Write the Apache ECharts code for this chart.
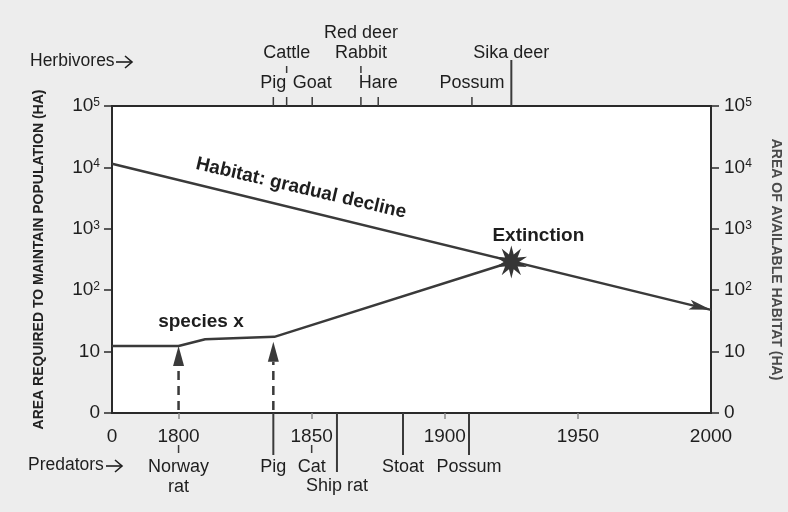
<!DOCTYPE html>
<html><head><meta charset="utf-8">
<script src="https://cdn.jsdelivr.net/npm/echarts@6/dist/echarts.min.js"></script>
<style>html,body{margin:0;padding:0;background:#ededed}#c{width:788px;height:512px}</style>
</head><body><div id="c"></div>
<script>
// ---------------- data ----------------
const xTickValues = [1775, 1800, 1850, 1900, 1950, 2000];
const xTickLabels = ['0', '1800', '1850', '1900', '1950', '2000'];
const xMinorTicks = [1800, 1850, 1900, 1950];
const yTickLabels = ['0', '10', '10^2', '10^3', '10^4', '10^5'];

const habitatYears = [1775, 2000];
const habitatValues = [4.06, 1.68];

const speciesYears = [1775, 1800, 1810, 1836, 1925];
const speciesValues = [1.09, 1.09, 1.2, 1.24, 2.46];

const extinctionYears = [1925];
const extinctionValues = [2.46];

const arrivalYears = [1800, 1835.6];
const arrivalValues = [1.09, 1.16];

const herbivoreNames = ['Pig', 'Cattle', 'Goat', 'Red deer', 'Rabbit', 'Hare', 'Possum', 'Sika deer'];
const herbivoreYears = [1835.6, 1840.6, 1850.2, 1868.5, 1868.5, 1875, 1910.2, 1925];

const predatorNames = ['Norway\nrat', 'Pig', 'Cat', 'Ship rat', 'Stoat', 'Possum'];
const predatorYears = [1800, 1835.6, 1850, 1859.5, 1884.3, 1909.1];

const noteTexts = ['species x', 'Habitat: gradual decline'];
const noteYears = [1808.4, 1846];
const noteValues = [1.48, 3.66];

// ---------------- styling / layout ----------------
const FONT = '"Liberation Sans", Arial, Helvetica, sans-serif';
const INK = '#1e1e1e';
const LINE = '#3a3a3a';
const herbTick = ['short', 'float', 'short', 'none', 'float', 'short', 'short', 'long'];
const herbRow = [0, 1, 0, 2, 1, 0, 0, 1];
const herbRowDy = [-23, -53, -73];
const predTick = ['float', 'long', 'float', 'longer', 'long', 'long'];
const predRow = [0, 0, 0, 1, 0, 0];
const predRowDy = [44, 63];
const noteRot = [0, -13.2];

function starPath(n, r1, r2) {
  let d = '';
  for (let i = 0; i < 2 * n; i++) {
    const a = -Math.PI / 2 + i * Math.PI / n;
    const r = i % 2 ? r2 : r1;
    d += (i ? 'L' : 'M') + (r * Math.cos(a)).toFixed(2) + ',' + (r * Math.sin(a)).toFixed(2);
  }
  return 'path://' + d + 'Z';
}
function seg(x1, y1, x2, y2, w, color, dash) {
  return { type: 'line', shape: { x1, y1, x2, y2 }, style: { stroke: color, lineWidth: w, lineDash: dash || null } };
}
function zip(a, b) { return a.map((v, i) => [v, b[i]]); }
function arrowGlyph(x0, x1, y) {
  return {
    type: 'group', children: [
      { type: 'line', shape: { x1: x0, y1: y, x2: x1, y2: y }, style: { stroke: INK, lineWidth: 1.6 } },
      { type: 'polyline', shape: { points: [[x1 - 7, y - 6], [x1, y], [x1 - 7, y + 6]] }, style: { stroke: INK, lineWidth: 1.6, fill: null } }
    ]
  };
}

function yFmt(v) {
  const l = yTickLabels[Math.round(v)];
  if (l === undefined) return '';
  if (l.indexOf('^') >= 0) { const p = l.split('^'); return '{n|' + p[0] + '}{s|' + p[1] + '}'; }
  return '{n|' + l + '}';
}
const yRich = {
  n: { fontSize: 19, fontFamily: FONT, color: INK },
  s: { fontSize: 12, fontFamily: FONT, color: INK, verticalAlign: 'top' }
};

const chart = echarts.init(document.getElementById('c'));
const option = {
  backgroundColor: '#ededed',
  animation: false,
  grid: { left: 112, right: 77, top: 106, bottom: 99, show: true, backgroundColor: '#ffffff', borderColor: '#2a2a2a', borderWidth: 2, outerBoundsMode: 'none', containLabel: false },
  xAxis: {
    type: 'value', min: 1775, max: 2000,
    splitLine: { show: false },
    axisLine: { show: false },
    axisTick: { show: true, customValues: xMinorTicks, length: 6, lineStyle: { color: '#8a8a8a', width: 1.5 } },
    axisLabel: {
      customValues: xTickValues,
      formatter: v => { const i = xTickValues.indexOf(v); return i >= 0 ? xTickLabels[i] : ''; },
      fontSize: 19, fontFamily: FONT, color: INK, margin: 14
    }
  },
  yAxis: [
    {
      type: 'value', min: 0, max: 5, interval: 1, position: 'left',
      splitLine: { show: false }, axisLine: { show: false },
      axisTick: { show: true, length: 8, lineStyle: { color: '#2a2a2a', width: 1.5 } },
      axisLabel: { formatter: yFmt, rich: yRich, margin: 12 },
      name: 'AREA REQUIRED TO MAINTAIN POPULATION (HA)', nameLocation: 'middle', nameRotate: 90, nameGap: 66,
      nameTextStyle: { fontSize: 14, fontWeight: 'bold', fontFamily: FONT, color: '#222' }
    },
    {
      type: 'value', min: 0, max: 5, interval: 1, position: 'right',
      splitLine: { show: false }, axisLine: { show: false },
      axisTick: { show: true, length: 8, lineStyle: { color: '#2a2a2a', width: 1.5 } },
      axisLabel: { formatter: yFmt, rich: yRich, margin: 13 },
      name: 'AREA OF AVAILABLE HABITAT (HA)', nameLocation: 'middle', nameRotate: -90, nameGap: 58,
      nameTextStyle: { fontSize: 14, fontWeight: 'bold', fontFamily: FONT, color: '#4a4a4a' }
    }
  ],
  graphic: [
    { type: 'text', left: 30, top: 52, style: { text: 'Herbivores', fontSize: 17.5, fontFamily: FONT, fill: INK } },
    arrowGlyph(116, 132, 62),
    { type: 'text', left: 28, top: 456, style: { text: 'Predators', fontSize: 17.5, fontFamily: FONT, fill: INK } },
    arrowGlyph(106, 122, 466)
  ],
  series: [
    {
      name: 'habitat', type: 'line', data: zip(habitatYears, habitatValues), symbol: 'none', z: 3,
      lineStyle: { color: LINE, width: 2.5 }
    },
    {
      name: 'species', type: 'line', data: zip(speciesYears, speciesValues), symbol: 'none', z: 3,
      lineStyle: { color: LINE, width: 2.5 }
    },
    {
      name: 'habitatArrow', type: 'custom', z: 4, clip: false,
      dimensions: ['x1', 'y1', 'x2', 'y2'], encode: { x: [0, 2], y: [1, 3] },
      data: [[habitatYears[0], habitatValues[0], habitatYears[1], habitatValues[1]]],
      renderItem: (params, api) => {
        const a = api.coord([api.value(0), api.value(1)]);
        const b = api.coord([api.value(2), api.value(3)]);
        const dx = b[0] - a[0], dy = b[1] - a[1], L = Math.hypot(dx, dy);
        const ux = dx / L, uy = dy / L, px = -uy, py = ux;
        const len = 22, hw = 5;
        const bx = b[0] - ux * len, by = b[1] - uy * len;
        const nx = b[0] - ux * len * 0.78, ny = b[1] - uy * len * 0.78;
        return { type: 'polygon', shape: { points: [b, [bx + px * hw, by + py * hw], [nx, ny], [bx - px * hw, by - py * hw]] }, style: { fill: LINE } };
      }
    },
    {
      name: 'arrivals', type: 'custom', z: 4, clip: false,
      data: zip(arrivalYears, arrivalValues),
      renderItem: (params, api) => {
        const b = api.coord([api.value(0), 0]);
        const t = api.coord([api.value(0), api.value(1)]);
        const head = 20, hw = 5.5;
        return {
          type: 'group', children: [
            seg(b[0], b[1] - 3, t[0], t[1] + head, 2.5, LINE, [9, 6]),
            { type: 'polygon', shape: { points: [[t[0], t[1]], [t[0] - hw, t[1] + head], [t[0] + hw, t[1] + head]] }, style: { fill: LINE } }
          ]
        };
      }
    },
    {
      name: 'extinction', type: 'scatter', z: 5,
      data: zip(extinctionYears, extinctionValues),
      symbol: starPath(10, 16, 7.5), symbolSize: 33, symbolKeepAspect: true,
      itemStyle: { color: '#353535', opacity: 1 },
      label: { show: true, formatter: 'Extinction', position: 'top', distance: 2, offset: [27, 2], fontSize: 19, fontWeight: 'bold', fontFamily: FONT, color: INK, opacity: 1 }
    },
    {
      name: 'notes', type: 'custom', z: 6, clip: false,
      data: zip(noteYears, noteValues),
      renderItem: (params, api) => {
        const i = params.dataIndex;
        const p = api.coord([api.value(0), api.value(1)]);
        return {
          type: 'text', x: p[0], y: p[1], rotation: noteRot[i] * Math.PI / 180,
          style: { text: noteTexts[i], fill: INK, fontSize: 19, fontWeight: 'bold', fontFamily: FONT, align: 'center', verticalAlign: 'middle' }
        };
      }
    },
    {
      name: 'herbivores', type: 'custom', z: 6, clip: false,
      data: herbivoreYears.map(y => [y, 5]),
      renderItem: (params, api) => {
        const i = params.dataIndex;
        const p = api.coord([api.value(0), 5]);
        const x = p[0], top = p[1];
        const kids = [];
        const t = herbTick[i];
        if (t === 'short' || t === 'float') kids.push(seg(x, top - 9, x, top, 1.5, LINE));
        if (t === 'float') kids.push(seg(x, top - 40, x, top - 33, 1.5, LINE));
        if (t === 'long') kids.push(seg(x, top - 46, x, top, 2, LINE));
        kids.push({ type: 'text', x: x, y: top + herbRowDy[herbRow[i]], style: { text: herbivoreNames[i], fill: INK, fontSize: 18, fontFamily: FONT, align: 'center', verticalAlign: 'middle' } });
        return { type: 'group', children: kids };
      }
    },
    {
      name: 'predators', type: 'custom', z: 6, clip: false,
      data: predatorYears.map(y => [y, 0]),
      renderItem: (params, api) => {
        const i = params.dataIndex;
        const p = api.coord([api.value(0), 0]);
        const x = p[0], bot = p[1];
        const kids = [];
        const t = predTick[i];
        if (t === 'float') kids.push(seg(x, bot + 32, x, bot + 40, 1.5, LINE));
        if (t === 'long') kids.push(seg(x, bot, x, bot + 42, 2, LINE));
        if (t === 'longer') kids.push(seg(x, bot, x, bot + 59, 2, LINE));
        kids.push({ type: 'text', x: x, y: bot + predRowDy[predRow[i]], style: { text: predatorNames[i], fill: INK, fontSize: 18, lineHeight: 20, fontFamily: FONT, align: 'center', verticalAlign: 'top' } });
        return { type: 'group', children: kids };
      }
    }
  ]
};
chart.setOption(option);
</script>
</body></html>
